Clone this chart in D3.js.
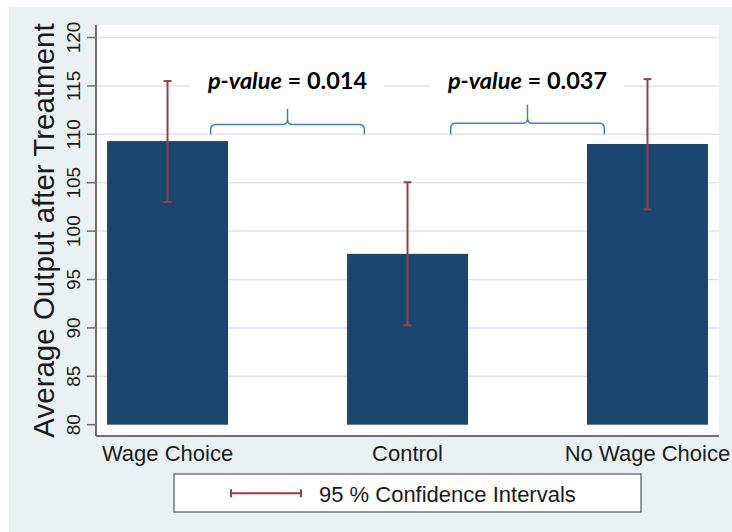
<!DOCTYPE html>
<html>
<head>
<meta charset="utf-8">
<script src="https://cdn.jsdelivr.net/npm/d3@7"></script>
<style>
  html, body { margin: 0; padding: 0; background: #fff; }
  svg { display: block; }
</style>
</head>
<body>
<div id="chart"></div>
<script>
// Bar chart of average output by treatment, with 95% CIs and p-value braces.

const categories = ["Wage Choice", "Control", "No Wage Choice"];
const means = [109.3, 97.65, 109.0];
const ciLow = [103.0, 90.27, 102.25];
const ciHigh = [115.5, 105.05, 115.7];
const yTicks = [80, 85, 90, 95, 100, 105, 110, 115, 120];

// comparisons drawn above the bars
const pairs = [[0, 1], [1, 2]];
const pValues = ["0.014", "0.037"];
const braceBase = [110, 110];
const braceLevel = [111.0, 111.15];
const braceTip = [112.65, 113.05];
const labelLevel = [114.7, 114.7];

const W = 732, H = 532;
const plot = { left: 96, right: 719, top: 25, bottom: 436 };
const navy = "#1a476f";
const maroon = "#983d45";
const braceBlue = "#4a7ebb";
const textColor = "#1a1a1a";
const font = "'Liberation Sans', Arial, sans-serif";

const svg = d3.select("#chart").append("svg")
  .attr("width", W).attr("height", H);

// graph region
svg.append("rect")
  .attr("x", 9).attr("y", 7).attr("width", W - 9).attr("height", H - 7)
  .attr("fill", "#eaf1f2");

// plot region
svg.append("rect")
  .attr("x", plot.left).attr("y", plot.top)
  .attr("width", plot.right - plot.left).attr("height", plot.bottom - plot.top)
  .attr("fill", "#fff");

const x = d3.scaleBand()
  .domain(categories)
  .range([plot.left, plot.right])
  .paddingInner(0.496)
  .paddingOuter(0.046);

const y = d3.scaleLinear()
  .domain([80, 120])
  .range([plot.bottom - 11.3, plot.top + 12.5]);

// gridlines
svg.append("g").selectAll("line")
  .data(yTicks.filter(t => t > 80)).join("line")
  .attr("x1", plot.left).attr("x2", plot.right)
  .attr("y1", d => y(d)).attr("y2", d => y(d))
  .attr("stroke", "#dfe3f0").attr("stroke-width", 1.5);

// bars
svg.append("g").selectAll("rect")
  .data(categories).join("rect")
  .attr("x", d => x(d))
  .attr("y", (d, i) => y(means[i]))
  .attr("width", x.bandwidth())
  .attr("height", (d, i) => y(80) - y(means[i]))
  .attr("fill", navy);

// error bars
const eb = svg.append("g").attr("stroke", maroon).attr("stroke-width", 2).attr("fill", "none");
categories.forEach((c, i) => {
  const cx = x(c) + x.bandwidth() / 2;
  eb.append("line").attr("x1", cx).attr("x2", cx)
    .attr("y1", y(ciLow[i])).attr("y2", y(ciHigh[i]));
  [ciLow[i], ciHigh[i]].forEach(v => {
    eb.append("line").attr("x1", cx - 4).attr("x2", cx + 4)
      .attr("y1", y(v)).attr("y2", y(v));
  });
});

// y axis
const yAxis = svg.append("g");
yAxis.append("line")
  .attr("x1", plot.left).attr("x2", plot.left)
  .attr("y1", plot.top).attr("y2", plot.bottom)
  .attr("stroke", "#6f6f6f").attr("stroke-width", 2);
yAxis.selectAll("line.tick")
  .data(yTicks).join("line").attr("class", "tick")
  .attr("x1", plot.left - 9).attr("x2", plot.left)
  .attr("y1", d => y(d)).attr("y2", d => y(d))
  .attr("stroke", "#6f6f6f").attr("stroke-width", 1.5);
yAxis.selectAll("text")
  .data(yTicks).join("text")
  .attr("transform", d => `translate(80,${y(d)}) rotate(-90)`)
  .attr("text-anchor", "middle")
  .attr("font-family", font).attr("font-size", 19)
  .attr("fill", textColor)
  .text(d => d);

svg.append("text")
  .attr("transform", `translate(54,${(plot.top + plot.bottom) / 2}) rotate(-90)`)
  .attr("text-anchor", "middle")
  .attr("font-family", font).attr("font-size", 29.5)
  .attr("fill", textColor)
  .text("Average Output after Treatment");

// x axis
svg.append("line")
  .attr("x1", plot.left).attr("x2", plot.right)
  .attr("y1", plot.bottom).attr("y2", plot.bottom)
  .attr("stroke", "#6f6f6f").attr("stroke-width", 2);
svg.append("g").selectAll("text")
  .data(categories).join("text")
  .attr("x", d => x(d) + x.bandwidth() / 2)
  .attr("y", 461)
  .attr("text-anchor", "middle")
  .attr("font-family", font).attr("font-size", 22)
  .attr("fill", textColor)
  .text(d => d);

// p-value annotations
const ann = svg.append("g");
pairs.forEach(([a, b], i) => {
  const ca = x(categories[a]) + x.bandwidth() / 2;
  const cb = x(categories[b]) + x.bandwidth() / 2;
  const xm = (ca + cb) / 2;
  const half = x.step() * 0.32;
  const x0 = xm - half, x1 = xm + half;
  const yb = y(braceBase[i]), yh = y(braceLevel[i]), yt = y(braceTip[i]);
  const r = 5;

  const label = ann.append("text")
    .attr("x", xm).attr("y", y(labelLevel[i]))
    .attr("text-anchor", "middle")
    .attr("font-family", "Lato, 'Open Sans', sans-serif")
    .attr("font-weight", "bold").attr("font-size", 23.5)
    .attr("fill", "#000");
  label.append("tspan").attr("font-style", "italic").text("p-value");
  label.append("tspan").text(" = " + pValues[i]);

  const bb = label.node().getBBox();
  ann.insert("rect", "text")
    .attr("x", bb.x - 17).attr("y", bb.y - 2)
    .attr("width", bb.width + 34).attr("height", bb.height + 4)
    .attr("fill", "#fff");

  const p = d3.path();
  p.moveTo(x0, yb);
  p.lineTo(x0, yh + r);
  p.quadraticCurveTo(x0, yh, x0 + r, yh);
  p.lineTo(xm - r, yh);
  p.quadraticCurveTo(xm, yh, xm, yh - r);
  p.lineTo(xm, yt);
  p.moveTo(xm, yh - r);
  p.quadraticCurveTo(xm, yh, xm + r, yh);
  p.lineTo(x1 - r, yh);
  p.quadraticCurveTo(x1, yh, x1, yh + r);
  p.lineTo(x1, yb);
  ann.append("path")
    .attr("d", p.toString())
    .attr("fill", "none")
    .attr("stroke", braceBlue).attr("stroke-width", 1.5);
});

// legend
const lgW = 467, lgH = 38;
const lgX = (plot.left + plot.right) / 2 - lgW / 2, lgY = 474;
const lg = svg.append("g").attr("transform", `translate(${lgX},${lgY})`);
lg.append("rect")
  .attr("x", 0).attr("y", 0).attr("width", lgW).attr("height", lgH)
  .attr("fill", "#fff").attr("stroke", "#555").attr("stroke-width", 1.2);
const ly = 19.3;
lg.append("line").attr("x1", 57).attr("x2", 127).attr("y1", ly).attr("y2", ly)
  .attr("stroke", maroon).attr("stroke-width", 2);
[57, 127].forEach(px => {
  lg.append("line").attr("x1", px).attr("x2", px).attr("y1", ly - 4).attr("y2", ly + 4)
    .attr("stroke", maroon).attr("stroke-width", 2);
});
lg.append("text")
  .attr("x", 145).attr("y", 27.7)
  .attr("font-family", font).attr("font-size", 22)
  .attr("fill", textColor)
  .text("95 % Confidence Intervals");
</script>
</body>
</html>
